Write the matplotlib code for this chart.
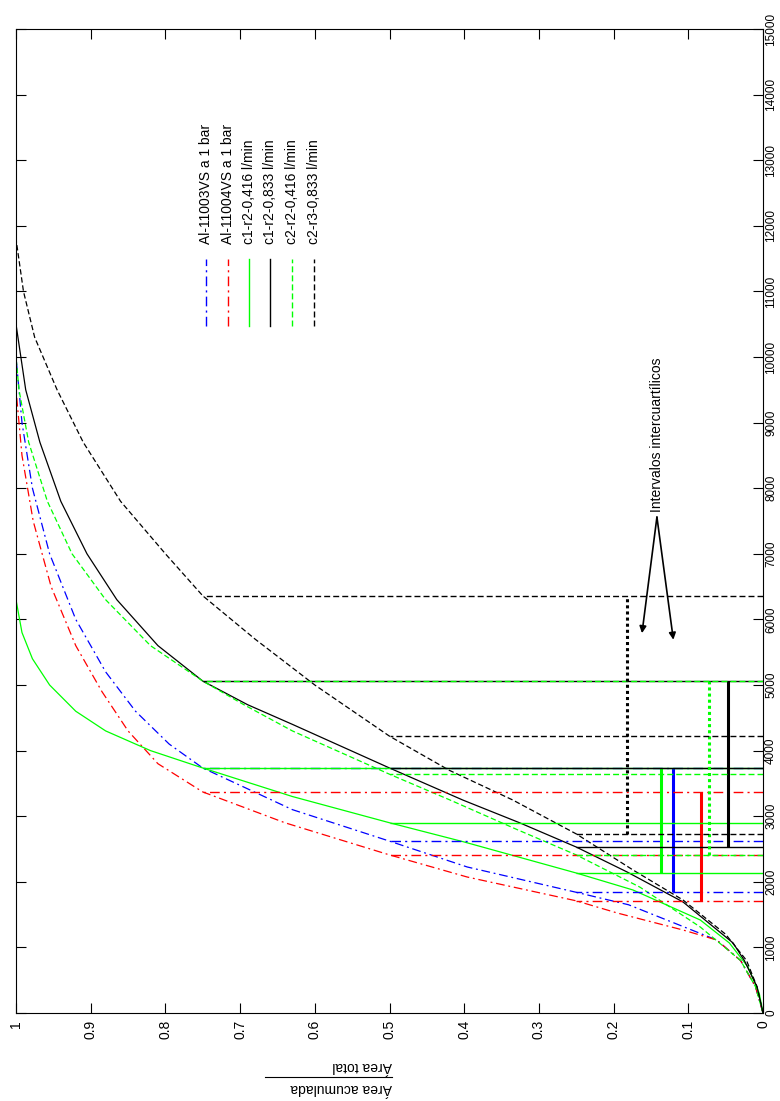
import matplotlib.pyplot as plt

plt.rcParams['font.family'] = ['Liberation Sans', 'DejaVu Sans']

# serie: etiqueta de leyenda
labels = ['Al-11003VS a 1 bar', 'Al-11004VS a 1 bar', 'c1-r2-0,416 l/min',
          'c1-r2-0,833 l/min', 'c2-r2-0,416 l/min', 'c2-r3-0,833 l/min']

# diametro (eje largo) y area acumulada / area total
al03_d = [0, 400, 800, 1113, 1418, 1650, 1840, 2226, 2620, 3100, 3735, 4100,
          4600, 5200, 6000, 7000, 8000, 9000, 10000, 15000]
al03_a = [0, 0.01, 0.03, 0.062, 0.129, 0.18, 0.25, 0.396, 0.5, 0.63, 0.75, 0.795,
          0.84, 0.88, 0.92, 0.955, 0.978, 0.992, 1.0, 1.0]

al04_d = [0, 400, 800, 1113, 1265, 1524, 1710, 2073, 2410, 2900, 3370, 3800,
          4300, 4900, 5600, 6500, 7500, 8500, 9500, 15000]
al04_a = [0, 0.01, 0.03, 0.062, 0.107, 0.195, 0.25, 0.396, 0.5, 0.64, 0.75, 0.81,
          0.85, 0.885, 0.92, 0.953, 0.977, 0.992, 1.0, 1.0]

c1r2a_d = [0, 300, 700, 1067, 1418, 1875, 2134, 2607, 2900, 3300, 3735, 4000,
           4300, 4600, 5000, 5400, 5800, 6300, 15000]
c1r2a_a = [0, 0.005, 0.02, 0.045, 0.084, 0.174, 0.25, 0.40, 0.5, 0.63, 0.75, 0.82,
           0.88, 0.92, 0.955, 0.978, 0.992, 1.0, 1.0]

c1r2b_d = [0, 400, 800, 1067, 1692, 2150, 2530, 2896, 3247, 3735, 4400, 4700,
           5060, 5600, 6300, 7000, 7800, 8700, 9500, 10500, 15000]
c1r2b_a = [0, 0.008, 0.025, 0.04, 0.107, 0.182, 0.25, 0.325, 0.402, 0.5, 0.63, 0.69,
           0.75, 0.81, 0.865, 0.905, 0.94, 0.968, 0.987, 1.0, 1.0]

c2r2_d = [0, 400, 800, 1311, 1920, 2410, 2800, 3247, 3640, 4300, 4700, 5060,
          5600, 6300, 7000, 7800, 8700, 9500, 10000, 15000]
c2r2_a = [0, 0.01, 0.03, 0.084, 0.165, 0.25, 0.33, 0.419, 0.5, 0.63, 0.695, 0.75,
          0.82, 0.88, 0.925, 0.958, 0.983, 0.996, 1.0, 1.0]

c2r3_d = [0, 400, 800, 1200, 1722, 2180, 2730, 3247, 3700, 4220, 5000, 5700,
          6360, 7000, 7800, 8700, 9500, 10300, 11000, 11800, 15000]
c2r3_a = [0, 0.008, 0.022, 0.05, 0.107, 0.174, 0.25, 0.335, 0.42, 0.5, 0.6, 0.68,
          0.75, 0.80, 0.86, 0.91, 0.945, 0.975, 0.99, 1.0, 1.0]

curves_d = [al03_d, al04_d, c1r2a_d, c1r2b_d, c2r2_d, c2r3_d]
curves_a = [al03_a, al04_a, c1r2a_a, c1r2b_a, c2r2_a, c2r3_a]

# cuartiles
q25 = [1840, 1710, 2140, 2530, 2410, 2730]
q50 = [2620, 2410, 2900, 3735, 3640, 4220]
q75 = [3735, 3370, 3735, 5060, 5060, 6360]

ytick_vals = [0, 0.1, 0.2, 0.3, 0.4, 0.5, 0.6, 0.7, 0.8, 0.9, 1]
ytick_labels = ['0', '0.1', '0.2', '0.3', '0.4', '0.5', '0.6', '0.7', '0.8', '0.9', '1']
xtick_vals = list(range(0, 15001, 1000))

# estilos
green = (0, 1, 0)
colors = ['b', 'r', green, 'k', green, 'k']
dashdot = (0, (7, 3, 1.5, 3))
dashed = (0, (4.3, 2.2))
styles = [dashdot, dashdot, '-', '-', dashed, dashed]
bar_styles = ['-', '-', '-', '-', (0, (1, 1)), (0, (1, 1))]
bar_pos = [0.12, 0.083, 0.137, 0.047, 0.072, 0.182]

fig = plt.figure(figsize=(7.8, 11.01), dpi=100)
ax = fig.add_axes([16 / 780, 88 / 1101, 747 / 780, 984 / 1101])

# figura girada: area en horizontal (invertida), diametro en vertical
for d, a, c, ls in zip(curves_d, curves_a, colors, styles):
    ax.plot(a, d, color=c, linestyle=ls, lw=0.9)

for i in range(len(labels)):
    ax.hlines([q25[i], q50[i], q75[i]], 0, [0.25, 0.5, 0.75],
              colors=[colors[i]], linestyles=[styles[i]], lw=1.0)
    ax.vlines(bar_pos[i], q25[i], q75[i], colors=[colors[i]],
              linestyles=[bar_styles[i]], lw=2.2)

ax.set_xlim(1, 0)
ax.set_ylim(0, 15000)
ax.set_xticks(ytick_vals)
ax.set_xticklabels(ytick_labels)
ax.set_yticks(xtick_vals)
ax.set_yticklabels([str(v) for v in xtick_vals])
ax.tick_params(direction='in', length=7, width=0.8, top=True, bottom=True,
               left=True, right=True, labelleft=False, labelright=True,
               labelsize=10, pad=5)
ax.tick_params(axis='y', labelsize=8.5, pad=1.5)
for lab in ax.get_xticklabels():
    lab.set_rotation(90)
    lab.set_ha('center')
    lab.set_va('top')
for lab in ax.get_yticklabels():
    lab.set_rotation(90)
    lab.set_ha('left')
    lab.set_va('center')
for s in ax.spines.values():
    s.set_linewidth(0.8)

# leyenda manual (girada)
leg_px = [206, 228, 249, 270, 292, 314]
for i, lab in enumerate(labels):
    fx = (leg_px[i] - 16) / 747
    ax.plot([fx, fx], [(1013 - 326) / 984, (1013 - 259) / 984],
            transform=ax.transAxes, color=colors[i], linestyle=styles[i], lw=1.0)
    ax.text(fx, (1013 - 244) / 984, lab, transform=ax.transAxes, rotation=90,
            ha='center', va='bottom', fontsize=10)

# intervalos intercuartilicos
apex = (0.142, 7560)
ax.text(0.142, 7640, 'Intervalos intercuartílicos', rotation=90,
        ha='center', va='bottom', fontsize=10)
for tip in [(0.162, 5790), (0.120, 5690)]:
    ax.annotate('', xy=tip, xytext=apex,
                arrowprops=dict(arrowstyle='-|>', color='k', lw=1.2,
                                mutation_scale=10, shrinkA=0, shrinkB=0))

# etiqueta del eje (fraccion girada)
fig.text(392 / 780, 1 - 1066 / 1101, 'Área total', rotation=180,
         ha='right', va='center', fontsize=10)
fig.text(392 / 780, 1 - 1088 / 1101, 'Área acumulada', rotation=180,
         ha='right', va='center', fontsize=10)
fig.add_artist(plt.Line2D([265 / 780, 392 / 780], [1 - 1077 / 1101, 1 - 1077 / 1101],
                          color='k', lw=0.8))

plt.savefig('out.png')
